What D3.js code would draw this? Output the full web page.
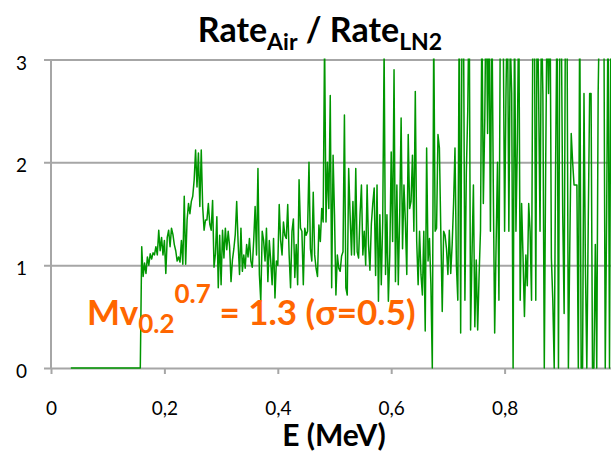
<!DOCTYPE html>
<html>
<head>
<meta charset="utf-8">
<script src="https://cdn.jsdelivr.net/npm/d3@7"></script>
<style>
  html, body { margin: 0; padding: 0; background: #fff; }
  svg { display: block; font-family: Lato, "Open Sans", "DejaVu Sans", sans-serif; }
</style>
</head>
<body>
<svg id="chart" width="611" height="453"></svg>
<script>
// Energy binning (MeV): centre of the first bin and bin width
const binStart = 0.035;
const binWidth = 0.0025;

// Rate ratio Air / LN2 per energy bin, in consecutive blocks
const ratioBelowThreshold = [
  0,0,0,0,0,0,0,0,0,0, 0,0,0,0,0,0,0,0,0,0,
  0,0,0,0,0,0,0,0,0,0, 0,0,0,0,0,0,0,0,0,0,
  0,0,0,0,0,0,0,0,0,0
];
const ratioBlock1 = [
  1.18, 0.89, 1.02, 0.92, 1.08, 1.0, 1.11, 1.06, 1.12, 1.1,
  1.18, 1.1, 1.34, 1.14, 1.27, 1.1, 1.24, 0.92, 1.27, 1.34,
  1.18, 1.36, 1.3, 1.2, 1.14, 1.04, 1.08, 1.03, 1.24, 1.01,
  1.67, 1.01, 1.44, 1.6, 1.5, 1.62, 1.67, 1.83, 2.12, 1.76,
  2.09, 1.57, 2.12, 1.57, 1.34, 1.44, 1.44, 1.6, 1.4, 1.34,
  1.63, 0.98, 1.11, 1.47
];
const ratioBlock2 = [
  0.78, 1.29, 0.81, 1.34, 1.07, 1.36, 1.15, 1.33, 1.18, 0.84,
  1.05, 1.16, 1.3, 1.62, 1.22, 0.91, 1.36, 0.94, 1.1, 0.97,
  1.2, 1.08, 1.26, 1.04, 0.98, 1.24, 1.57, 1.1, 1.94, 0.91,
  0.65, 1.33, 1.24, 1.04, 1.36, 0.84, 1.24, 1.04, 0.81, 1.26,
  0.68, 1.04, 1.0, 1.59, 1.24, 1.1, 1.42, 1.29, 1.26, 1.59,
  1.1, 0.78, 1.33, 1.45, 0.88, 1.2
];
const ratioBlock3 = [
  0.81, 1.83, 1.36, 1.33, 0.81, 1.36, 1.29, 1.33, 2.0, 1.16,
  1.04, 1.71, 1.1, 0.97, 0.89, 1.39, 1.23, 1.55, 1.42, 3.2,
  1.42, 2.0, 1.55, 2.65, 0.78, 2.07, 1.49, 0.71, 1.1, 0.97,
  0.94, 1.09, 1.13, 2.46, 0.78, 0.71, 1.94, 1.49, 1.1, 1.62,
  1.1, 1.94, 1.13, 1.07, 1.49, 1.78, 1.1, 1.33, 1.0, 1.78,
  1.2, 0.95, 1.4, 1.6
];
const ratioBlock4 = [
  1.75, 0.9, 1.78, 0.65, 1.49, 0.81, 1.42, 3.1, 0.91, 1.49,
  0.65, 1.1, 2.1, 1.23, 2.9, 0.84, 1.78, 0.81, 1.49, 2.43,
  1.16, 1.78, 1.42, 0.91, 2.27, 1.55, 1.62, 2.07, 1.33, 2.69,
  1.23, 0.81, 1.33, 0.91, 0.71, 1.33, 0.36, 2.14, 1.04, 1.26,
  0.81, 0.0, 3.3, 1.33, 1.36, 2.27, 2.14, 1.33, 0.55, 1.33,
  1.29, 1.16, 0.91
];
const ratioBlock5 = [
  1.34, 0.92, 1.2, 1.6, 2.14, 1.0, 0.66, 3.5, 0.34, 3.6,
  3.4, 0.66, 1.9, 2.5, 3.7, 0.37, 1.1, 1.78, 0.4, 1.05,
  0.37, 0.9, 1.34, 3.5, 1.6, 2.4, 3.8, 2.28, 3.5, 1.33,
  3.6, 1.8, 0.34, 1.2, 2.0, 0.66, 3.5, 3.8, 3.4, 1.33,
  2.7, 3.6, 1.33, 3.2, 2.67, 0.0, 3.5, 1.33, 2.2, 3.6,
  0.66, 1.6, 1.08, 0.5, 1.1
];
const ratioBlock6 = [
  0.8, 1.6, 1.33, 0.66, 3.6, 3.5, 0.66, 3.7, 2.67, 1.33,
  3.5, 2.67, 0.0, 2.0, 3.6, 2.67, 3.8, 1.07, 0.66, 0.0,
  2.0, 3.5, 0.0, 3.6, 3.4, 1.5, 0.53, 3.8, 3.5, 0.0,
  1.2, 2.28, 2.0, 1.78, 1.78, 1.78, 0.0, 3.6, 0.0, 0.0,
  2.67, 1.0, 0.0, 1.4, 2.67, 2.67, 0.0, 0.0, 1.2, 0.0,
  2.67, 3.6, 3.8, 3.5, 3.6, 0.0, 1.5, 3.6, 0.0, 3.5
];

const ratio = [].concat(ratioBelowThreshold, ratioBlock1, ratioBlock2,
  ratioBlock3, ratioBlock4, ratioBlock5, ratioBlock6);

// Axis ticks and labels
const yTicks = [0, 1, 2, 3];
const yTickLabels = ["0", "1", "2", "3"];
const xTicks = [0, 0.2, 0.4, 0.6, 0.8];
const xTickLabels = ["0", "0,2", "0,4", "0,6", "0,8"];

// Layout
const plot = { left: 51, right: 611, top: 59.5, bottom: 368 };
const gridColor = "#a6a6a6";
const lineColor = "#009600";
const noteColor = "#ff6600";
const labelFont = "Lato, 'Open Sans', sans-serif";

const svg = d3.select("#chart");

const x = d3.scaleLinear().domain([0, 0.98765]).range([plot.left, plot.right]);
const y = d3.scaleLinear().domain([0, 3]).range([plot.bottom, plot.top]);

// Horizontal gridlines with left tick labels
const yAxis = d3.axisLeft(y)
  .tickValues(yTicks)
  .tickFormat((d, i) => yTickLabels[i])
  .tickSizeInner(-(plot.right - plot.left))
  .tickSizeOuter(0);

const gy = svg.append("g")
  .attr("transform", `translate(${plot.left},0)`)
  .call(yAxis);
gy.select(".domain").remove();
gy.selectAll(".tick line")
  .attr("x1", -7)
  .attr("x2", plot.right - plot.left)
  .attr("stroke", gridColor)
  .attr("stroke-width", 2);
gy.selectAll(".tick text")
  .attr("x", -24)
  .attr("dy", "0.5em")
  .attr("fill", "#000")
  .style("font-size", "19px")
  .style("font-family", labelFont);

// Vertical axis line
svg.append("line")
  .attr("x1", plot.left).attr("x2", plot.left)
  .attr("y1", plot.top).attr("y2", plot.bottom)
  .attr("stroke", gridColor).attr("stroke-width", 2);

// Bottom axis: tick marks and labels
const xAxis = d3.axisBottom(x)
  .tickValues(xTicks)
  .tickFormat((d, i) => xTickLabels[i])
  .tickSizeInner(6)
  .tickSizeOuter(0);
const gx = svg.append("g")
  .attr("transform", `translate(0,${plot.bottom})`)
  .call(xAxis);
gx.select(".domain").remove();
gx.selectAll(".tick line").attr("stroke", gridColor).attr("stroke-width", 2);
gx.selectAll(".tick text")
  .attr("y", 40)
  .attr("dy", "0.35em")
  .attr("fill", "#000")
  .style("font-size", "19px")
  .style("font-family", labelFont);

// Ratio curve, clipped to the plotting area
svg.append("clipPath").attr("id", "plotClip")
  .append("rect")
  .attr("x", plot.left).attr("y", plot.top - 1)
  .attr("width", plot.right - plot.left)
  .attr("height", plot.bottom - plot.top + 2);

const line = d3.line()
  .x((d, i) => x(binStart + i * binWidth))
  .y(d => y(d));

svg.append("path")
  .datum(ratio)
  .attr("clip-path", "url(#plotClip)")
  .attr("fill", "none")
  .attr("stroke", lineColor)
  .attr("stroke-width", 1.5)
  .attr("stroke-linejoin", "round")
  .attr("d", line);

// Title: Rate_Air / Rate_LN2
const title = svg.append("text")
  .attr("x", 320).attr("y", 42)
  .attr("text-anchor", "middle")
  .attr("font-weight", "bold")
  .attr("fill", "#000")
  .style("font-size", "34px");
title.append("tspan").text("Rate");
title.append("tspan").attr("dy", 8).style("font-size", "23px").text("Air");
title.append("tspan").attr("dy", -8).text(" / Rate");
title.append("tspan").attr("dy", 8).style("font-size", "23px").text("LN2");

// Axis title
svg.append("text")
  .attr("x", 334).attr("y", 446)
  .attr("text-anchor", "middle")
  .attr("font-weight", "bold")
  .attr("fill", "#000")
  .style("font-size", "30px")
  .text("E (MeV)");

// Annotation
const note = svg.append("text")
  .attr("x", 87).attr("y", 325)
  .attr("font-weight", "bold")
  .attr("fill", noteColor)
  .style("font-size", "35px");
note.append("tspan").text("Mv");
note.append("tspan").attr("dy", 8).style("font-size", "26px").text("0.2");
note.append("tspan").attr("dy", -30).style("font-size", "26px").text("0.7");
note.append("tspan").attr("dy", 22).text(" = 1.3 (σ=0.5)");
</script>
</body>
</html>
